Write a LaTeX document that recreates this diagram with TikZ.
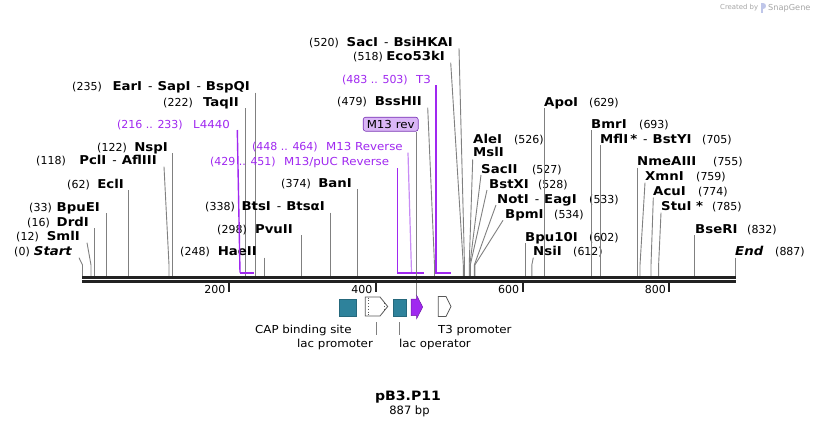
\documentclass[tikz,border=0pt]{standalone}
\usepackage{fontspec}
\setmainfont{DejaVu Sans}[BoldFeatures={FakeStretch=1.09},BoldItalicFeatures={FakeStretch=1.09}]
\newfontfamily\widefont{DejaVu Sans}[FakeStretch=1.075]
\definecolor{prim}{RGB}{160,40,240}
\definecolor{primlt}{RGB}{200,140,245}
\definecolor{tealc}{RGB}{46,130,155}
\definecolor{cutc}{RGB}{128,128,128}
\definecolor{bbc}{RGB}{34,34,34}
\definecolor{boxfill}{RGB}{218,182,246}
\definecolor{boxdraw}{RGB}{120,50,180}
\newcommand\enzsep{\hspace{6pt}{\mdseries -}\hspace{5pt}}
% left label: id, number, name, numRight, nameRight, cy, topx, sitex
\newcommand\LSite[8]{%
  \node[enz, anchor=base east] (#1) at ({#5},{#6+4}) {#3};
  \node[num, anchor=base east] (#1n) at ({#4},{#6+4}) {#2};
  \coordinate (#1t) at ({#7},{#6+6});
  \coordinate (#1k) at ({#8},265);
  \coordinate (#1s) at ({#8},276);
  \draw[cut] (#1t) -- (#1k) -- (#1s);}
% right label: id, number, name, nameLeft, numLeft, cy, topx, sitex
\newcommand\RSite[8]{%
  \node[enz, anchor=base west] (#1) at ({#4},{#6+4}) {#3};
  \node[num, anchor=base west] (#1n) at ({#5},{#6+4}) {#2};
  \coordinate (#1t) at ({#7},{#6+6});
  \coordinate (#1k) at ({#8},265);
  \coordinate (#1s) at ({#8},276);
  \draw[cut] (#1t) -- (#1k) -- (#1s);}
\begin{document}
\begin{tikzpicture}[x=1pt,y=-1pt,
  num/.style={font=\fontsize{11}{13}\selectfont, inner sep=0pt, text=black},
  enz/.style={font=\fontsize{12.2}{14}\selectfont\bfseries, inner sep=0pt, text=black},
  plabn/.style={font=\fontsize{11}{13}\selectfont, inner sep=0pt, text=prim},
  plab/.style={font=\widefont\fontsize{11}{13}\selectfont, inner sep=0pt, text=prim},
  flab/.style={font=\widefont\fontsize{11}{13}\selectfont, inner sep=0pt, text=black},
  cut/.style={draw=cutc, line width=0.9pt},
  pconn/.style={draw=prim, line width=1.4pt},
  pbar/.style={draw=prim, line width=2pt},
  bbone/.style={draw=bbc, line width=2.7pt},
  tick/.style={draw=bbc, line width=1.8pt},
  wfeat/.style={draw=black!65, fill=white, line width=0.8pt},
  tfeat/.style={fill=tealc, draw=tealc!80!black, line width=0.4pt, inner sep=0pt},
]
\useasboundingbox (0,0) rectangle (818,426);
\fill[white] (0,0) rectangle (818,426);

% ---------- left-side enzyme labels ----------
\LSite{start}{(0)}{\itshape Start}{30}{72}{251.7}{79}{82.5}
\LSite{sml}{(12)}{SmlI}{39}{80}{236.7}{87}{91}
\LSite{drd}{(16)}{DrdI}{50}{89}{222}{94.7}{94.7}
\LSite{bpue}{(33)}{BpuEI}{52}{100}{207}{106.7}{106.7}
\LSite{ecl}{(62)}{EclI}{90}{124}{184}{128.7}{128.7}
\LSite{pcl}{(118)}{PclI\enzsep AflIII}{66}{157}{160.7}{164}{169}
\LSite{nsp}{(122)}{NspI}{127}{168}{147}{172.3}{172.3}
\LSite{taq}{(222)}{TaqII}{193}{239}{102}{245.3}{245.3}
\LSite{ear}{(235)}{EarI\enzsep SapI\enzsep BspQI}{102}{250}{86.7}{255.3}{255.3}
\LSite{hae}{(248)}{HaeII}{210}{257}{251.7}{264.3}{264.3}
\LSite{pvu}{(298)}{PvuII}{247}{293}{229}{301.3}{301.3}
\LSite{bts}{(338)}{BtsI\enzsep BtsαI}{235}{325}{206.7}{330.3}{330.3}
\LSite{ban}{(374)}{BanI}{311}{352}{183}{357.3}{357.3}
\LSite{bss}{(479)}{BssHII}{367}{422}{101.7}{427.7}{434.5}
\LSite{eco}{(518)}{Eco53kI}{383}{445}{56.7}{450.7}{463.3}
\LSite{sac}{(520)}{SacI\enzsep BsiHKAI}{339}{453}{42.3}{459}{464.5}

% ---------- right-side enzyme labels ----------
\node[enz, anchor=base west] (ale) at (473,143.3) {AleI};
\node[num, anchor=base west] (alen) at (514,143.3) {(526)};
\node[enz, anchor=base west] (msl) at (473,156.7) {MslI};
\coordinate (mslt) at (472.7,159.5);
\coordinate (mslk) at (469.2,265);
\coordinate (msls) at (469.2,276);
\draw[cut] (mslt) -- (mslk) -- (msls);
\RSite{sacii}{(527)}{SacII}{481}{532}{169}{481}{469.8}
\RSite{bstx}{(528)}{BstXI}{489}{538}{184}{487}{470.3}
\RSite{noti}{(533)}{NotI\enzsep EagI}{497}{589}{199}{496}{474.3}
\RSite{bpm}{(534)}{BpmI}{505}{554}{214.3}{503}{474.8}
\RSite{apo}{(629)}{ApoI}{544}{589}{102.3}{544.3}{544.3}
\RSite{bpu}{(602)}{Bpu10I}{525}{589}{237.3}{525.7}{525.7}
\RSite{nsi}{(612)}{NsiI}{533}{573}{251.7}{533.3}{531.8}
\RSite{bmr}{(693)}{BmrI}{591}{639}{124}{591.7}{591.7}
\RSite{mfl}{(705)}{MflI\,*\enzsep BstYI}{600}{702}{139}{600.7}{600.7}
\RSite{nme}{(755)}{NmeAIII}{637}{713}{161.7}{637.7}{637.7}
\RSite{xmn}{(759)}{XmnI}{645}{696}{176.7}{645}{640}
\RSite{acu}{(774)}{AcuI}{653}{698}{191.7}{653.3}{651}
\RSite{stu}{(785)}{StuI *}{661}{712}{206.7}{661}{658.6}
\RSite{bse}{(832)}{BseRI}{695}{747}{229}{694.3}{694.3}
\RSite{endl}{(887)}{\itshape End}{735}{775}{251.7}{735.7}{735.7}

% ---------- primer labels ----------
\node[plabn, anchor=base east] (l44n) at (183,128) {(216 .. 233)};
\node[plab, anchor=base west] (l44) at (193,128) {L4440};
\coordinate (l44t) at (237.3,130);
\coordinate (l44b) at (240,272.5);
\coordinate (l44e) at (253.5,272.5);
\draw[pconn] (l44t) -- (l44b);
\draw[pbar] (l44b) -- (l44e);

\node[plabn, anchor=base east] (m13rn) at (318,150.7) {(448 .. 464)};
\node[plab, anchor=base west] (m13r) at (326,150.7) {M13 Reverse};
\coordinate (m13rt) at (408,152.7);
\coordinate (m13rb) at (411.5,272.5);
\draw[draw=primlt, line width=1.2pt] (m13rt) -- (m13rb);

\node[plabn, anchor=base east] (pucn) at (276,165.7) {(429 .. 451)};
\node[plab, anchor=base west] (puc) at (284,165.7) {M13/pUC Reverse};
\coordinate (puct) at (397.7,168);
\coordinate (pucb) at (397.7,272.5);
\coordinate (puce) at (423.5,272.5);
\draw[pconn] (puct) -- (pucb);
\draw[pbar] ([xshift=-0.7pt]pucb) -- (puce);

\node[plabn, anchor=base east] (t3n) at (408,83) {(483 .. 503)};
\node[plab, anchor=base west] (t3) at (416,83) {T3};
\coordinate (t3t) at (436,85);
\coordinate (t3b) at (436,272.5);
\coordinate (t3e) at (451,272.5);
\draw[pconn] (t3t) -- (t3b);
\draw[pbar] ([xshift=-0.7pt]t3b) -- (t3e);

% ---------- M13 rev feature label ----------
\node[draw=boxdraw, fill=boxfill, rounded corners=2.5pt, line width=0.6pt,
      minimum width=55pt, minimum height=14pt, inner sep=0pt,
      font=\widefont\fontsize{11}{13}\selectfont] (m13box) at (390.7,124.2) {M13 rev};
\coordinate (m13tip) at (416.5,296);
\draw[cut] (m13box.south -| m13tip) -- (m13tip);

% ---------- backbone ----------
\draw[bbone] (82,277.3) -- (736,277.3);
\draw[bbone] (82,281.3) -- (736,281.3);
\draw[tick] (228.7,282) -- (228.7,291.5);
\draw[tick] (376,282) -- (376,291.5);
\draw[tick] (522.7,282) -- (522.7,291.5);
\draw[tick] (669.3,282) -- (669.3,291.5);
\node[num, anchor=base east] (t200) at (225.5,293.5) {200};
\node[num, anchor=base east] (t400) at (372.5,293.5) {400};
\node[num, anchor=base east] (t600) at (519.3,293.5) {600};
\node[num, anchor=base east] (t800) at (666,293.5) {800};

% ---------- features ----------
\node[tfeat, minimum width=16.4pt, minimum height=16.4pt] (cap) at (347.5,307.5) {};
\draw[wfeat] (365.3,297) -- (380,297) -- (387.7,306.5) -- (380,316) -- (365.3,316) -- cycle;
\draw[black!65, dotted, line width=0.8pt] (368.3,297.5) -- (368.3,315.5);
\draw[black!65, dotted, line width=0.8pt] (384.5,303) -- (384.5,310);
\node[tfeat, minimum width=12.4pt, minimum height=16.4pt] (laco) at (399.5,307.5) {};
\draw[fill=prim, draw=prim!70!black, line width=0.5pt]
  (411,299) -- (416.7,299) -- (416.7,295.5) -- (422.7,307) -- (416.7,318.5) -- (416.7,315.5) -- (411,315.5) -- cycle;
\draw[wfeat] (438.3,296.5) -- (446,296.5) -- (451,306.5) -- (446,316.5) -- (438.3,316.5) -- cycle;

\node[flab, anchor=base west] (capl) at (255,333.3) {CAP binding site};
\node[flab, anchor=base west] (lacpl) at (297,347.3) {lac promoter};
\node[flab, anchor=base west] (lacol) at (399,347.3) {lac operator};
\node[flab, anchor=base west] (t3pl) at (438,333.3) {T3 promoter};
\coordinate (lacpa) at (376.5,322);
\coordinate (lacpz) at (376.5,335);
\draw[cut] (lacpa) -- (lacpz);
\coordinate (lacoa) at (399.4,322);
\coordinate (lacoz) at (399.4,335);
\draw[cut] (lacoa) -- (lacoz);

% ---------- title ----------
\node[font=\fontsize{12.9}{16}\selectfont\bfseries, anchor=base, inner sep=0pt] (title) at (408,400) {pB3.P11};
\node[font=\fontsize{11.5}{13}\selectfont, anchor=base, inner sep=0pt] (len) at (409.5,414.8) {887 bp};

% ---------- watermark ----------
\node[font=\fontsize{6.9}{8}\selectfont, text=black!35, anchor=base west, inner sep=0pt] (cb) at (720,9.8) {Created by};
\node[font=\fontsize{8.2}{9}\selectfont, text=black!35, anchor=base west, inner sep=0pt] (sg) at (768,10.3) {SnapGene};
\fill[cyan!35!blue!25] (760.5,2.8) rectangle (762.6,13);
\fill[cyan!35!blue!25] (762.6,2.8) .. controls (767,2.8) and (767,8.6) .. (762.6,8.6) -- cycle;
\end{tikzpicture}
\end{document}
